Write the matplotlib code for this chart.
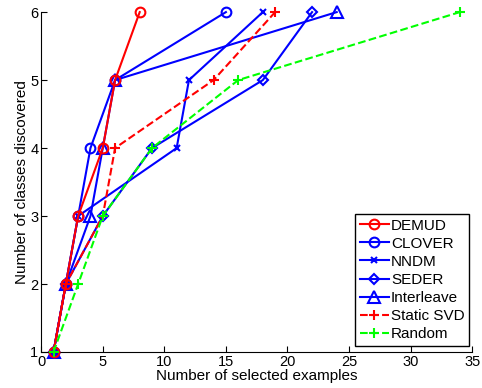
import matplotlib

matplotlib.use("Agg")
import matplotlib.pyplot as plt

plt.rcParams["font.family"] = ["Liberation Sans", "DejaVu Sans"]

# number of selected examples at which each new class was discovered
classes = [1, 2, 3, 4, 5, 6]
demud = [1, 2, 3, 5, 6, 8]
clover = [1, 2, 3, 4, 6, 15]
nndm = [1, 2, 3, 11, 12, 18]
seder = [1, 2, 5, 9, 18, 22]
interleave = [1, 2, 4, 5, 6, 24]
static_svd = [1, 2, 5, 6, 14, 19]
random_sel = [1, 3, 5, 9, 16, 34]

# name, data, colour, linestyle, marker, marker size, zorder
SERIES = [
    ("DEMUD", demud, "r", "-", "o", 7, 6),
    ("CLOVER", clover, "b", "-", "o", 7, 2),
    ("NNDM", nndm, "b", "-", "x", 5, 2),
    ("SEDER", seder, "b", "-", "D", 5.5, 2),
    ("Interleave", interleave, "b", "-", "^", 8, 2),
    ("Static SVD", static_svd, "r", "--", "+", 6.5, 5),
    ("Random", random_sel, "#00ff00", "--", "+", 6.5, 7),
]

fig = plt.figure(figsize=(4.82, 3.88), dpi=100)
ax = fig.add_axes([0.0855, 0.0928, 0.894, 0.876])

for name, xs, color, ls, marker, ms, z in SERIES:
    ax.plot(xs, classes, linestyle=ls, marker=marker, color=color, linewidth=1.5,
            markersize=ms, markerfacecolor="none", markeredgewidth=1.5,
            label=name, zorder=z, clip_on=False)

ax.set_xlim(0, 35)
ax.set_ylim(1, 6)
ax.set_xticks(range(0, 36, 5))
ax.set_yticks(range(1, 7))
ax.spines["top"].set_visible(False)
ax.spines["right"].set_visible(False)
ax.tick_params(direction="in", labelsize=10.5, length=4, pad=2)
ax.set_xlabel("Number of selected examples", fontsize=11, labelpad=0)
ax.set_ylabel("Number of classes discovered", fontsize=11, labelpad=1)

leg = ax.legend(loc="lower right", bbox_to_anchor=(0.993, 0.018), fontsize=11,
                fancybox=False, framealpha=1, edgecolor="black",
                handlelength=1.9, handletextpad=0.15, labelspacing=0.27,
                borderpad=0.3, borderaxespad=0)
leg.get_frame().set_linewidth(1.0)
leg.set_zorder(10)

fig.savefig("out.png", dpi=100)
